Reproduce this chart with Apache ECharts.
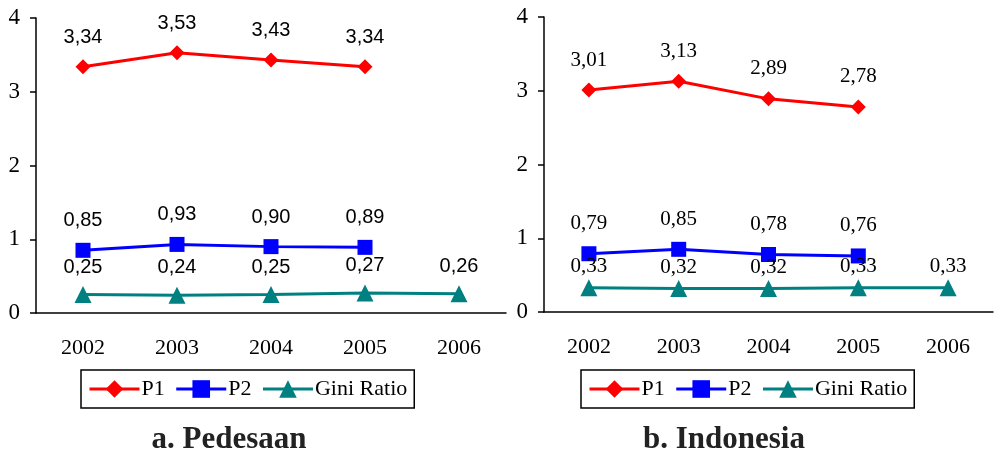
<!DOCTYPE html>
<html><head><meta charset="utf-8">
<script src="https://cdn.jsdelivr.net/npm/echarts@6/dist/echarts.min.js"></script>
<style>html,body{margin:0;padding:0;background:#fff}#c{width:994px;height:451px}</style>
</head><body><div id="c"></div>
<script>
const years = ['2002','2003','2004','2005','2006'];
const yTicks = [0,1,2,3,4];
const seriesNames = ['P1','P2','Gini Ratio'];
const titles = ['a. Pedesaan','b. Indonesia'];
// a. Pedesaan
const pedesaanP1 = [3.34,3.53,3.43,3.34,null];
const pedesaanP2 = [0.85,0.93,0.90,0.89,null];
const pedesaanGini = [0.25,0.24,0.25,0.27,0.26];
// b. Indonesia
const indonesiaP1 = [3.01,3.13,2.89,2.78,null];
const indonesiaP2 = [0.79,0.85,0.78,0.76,null];
const indonesiaGini = [0.33,0.32,0.32,0.33,0.33];

const serif = '"Liberation Serif","Times New Roman",serif';
const sans = '"Liberation Sans",Arial,sans-serif';
const colors = ['#FF0000','#0000FF','#008080'];
const symbols = ['diamond','rect','triangle'];
const fmt = p => p.value == null ? '' : p.value.toFixed(2).replace('.', ',');

const grids = [
  {left:36, top:18, width:470, height:295},
  {left:544, top:17, width:449, height:295}
];
function axisX(i){return {type:'category', gridIndex:i, data:years, boundaryGap:true,
  axisLine:{lineStyle:{color:'#000',width:1.5}}, axisTick:{length:6,lineStyle:{color:'#000',width:1.5}},
  axisLabel:{color:'#000',fontFamily:serif,fontSize:22,margin:24}, splitLine:{show:false}};}
function axisY(i){return {type:'value', gridIndex:i, min:yTicks[0], max:yTicks[yTicks.length-1], interval:1,
  axisLine:{show:true,lineStyle:{color:'#000',width:1.5}}, axisTick:{show:true,length:6,lineStyle:{color:'#000',width:1.5}},
  axisLabel:{color:'#000',fontFamily:serif,fontSize:23,margin:16}, splitLine:{show:false}};}

const groups = [
  {data:[pedesaanP1,pedesaanP2,pedesaanGini], font:sans, size:20, dist:[12,12,9]},
  {data:[indonesiaP1,indonesiaP2,indonesiaGini], font:serif, size:21, dist:[12,12,2]}
];
const series = [];
groups.forEach((g,gi)=>{
  g.data.forEach((arr,si)=>{
    series.push({name:seriesNames[si], type:'line', xAxisIndex:gi, yAxisIndex:gi, data:arr,
      symbol:symbols[si], symbolSize: si===2?17:15, showAllSymbol:true,
      lineStyle:{color:colors[si],width:3}, itemStyle:{color:colors[si]},
      label:{show:true, position:'top', distance:g.dist[si], formatter:fmt, color:'#000', fontFamily:g.font, fontSize:g.size},
      animation:false, connectNulls:false});
  });
});
function legend(left){return {left:left, top:370, orient:'horizontal', data:seriesNames, itemWidth:50, itemHeight:22, itemGap:10,
  borderColor:'#000', borderWidth:1.5, padding:[8,7,8,7], selectedMode:false,
  lineStyle:{width:3},
  textStyle:{color:'#000',fontFamily:serif,fontSize:22,padding:[0,0,0,-3]}};}

const chart = echarts.init(document.getElementById('c'),null,{renderer:'canvas'});
chart.setOption({
  animation:false,
  grid:grids,
  xAxis:[axisX(0),axisX(1)],
  yAxis:[axisY(0),axisY(1)],
  legend:[legend(81),legend(581)],
  title:[
    {text:titles[0], left:224, top:419, textAlign:'center', textStyle:{fontFamily:serif,fontWeight:'bold',fontSize:31,color:'#222'}},
    {text:titles[1], left:719, top:419, textAlign:'center', textStyle:{fontFamily:serif,fontWeight:'bold',fontSize:31,color:'#222'}}
  ],
  series:series
});
</script></body></html>
